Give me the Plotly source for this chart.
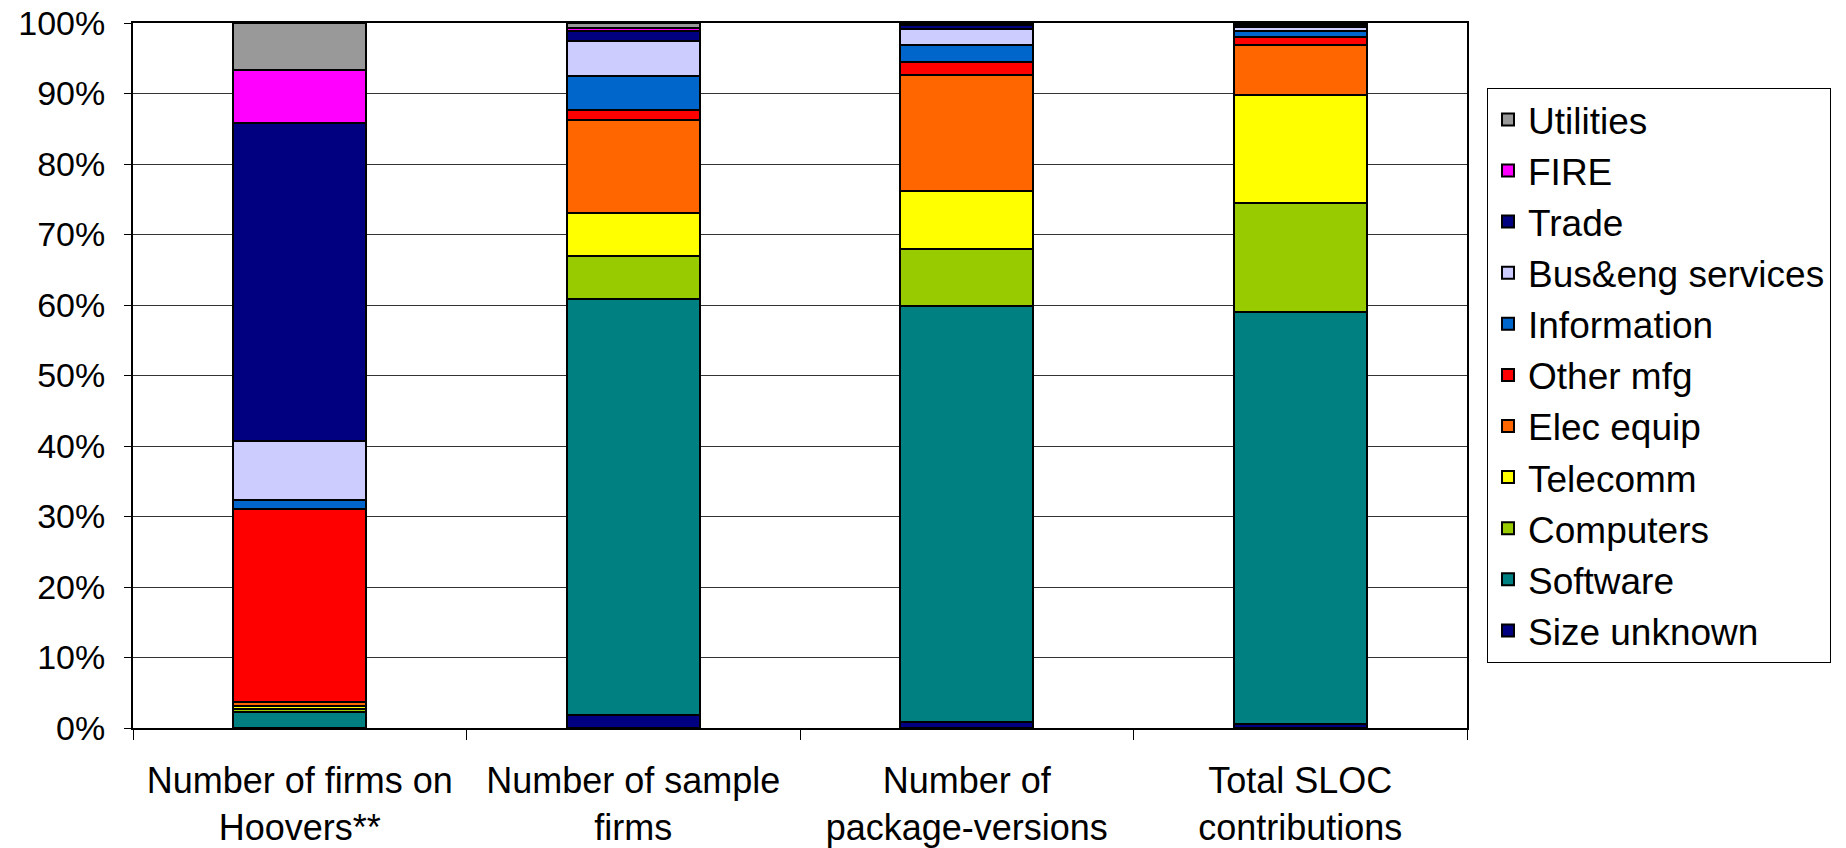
import plotly.graph_objects as go

# Categories on the x axis (two-line labels)
categories = [
    "Number of firms on<br>Hoovers**",
    "Number of sample<br>firms",
    "Number of<br>package-versions",
    "Total SLOC<br>contributions",
]

# Percentage share of each sector, bottom of the stack first
size_unknown = [0.0, 1.9, 0.9, 0.5]
software = [2.3, 59.0, 59.0, 58.5]
computers = [0.4, 6.0, 8.1, 15.5]
telecomm = [0.4, 6.2, 8.2, 15.3]
elec_equip = [0.6, 13.1, 16.4, 7.1]
other_mfg = [27.4, 1.4, 1.8, 1.1]
information = [1.3, 4.9, 2.5, 0.9]
bus_eng = [8.3, 4.9, 2.3, 0.5]
trade = [45.1, 1.4, 0.5, 0.3]
fire = [7.6, 0.5, 0.1, 0.1]
utilities = [6.6, 0.7, 0.2, 0.2]

series = [
    ("Size unknown", size_unknown, "#000080"),
    ("Software", software, "#008080"),
    ("Computers", computers, "#99CC00"),
    ("Telecomm", telecomm, "#FFFF00"),
    ("Elec equip", elec_equip, "#FF6600"),
    ("Other mfg", other_mfg, "#FF0000"),
    ("Information", information, "#0066CC"),
    ("Bus&eng services", bus_eng, "#CCCCFF"),
    ("Trade", trade, "#000080"),
    ("FIRE", fire, "#FF00FF"),
    ("Utilities", utilities, "#999999"),
]

FONT = "Liberation Sans, Arial, Helvetica, sans-serif"

fig = go.Figure()
for name, vals, color in series:
    fig.add_trace(go.Bar(
        name=name,
        x=categories,
        y=vals,
        width=0.4,
        marker=dict(color=color, line=dict(color="black", width=2)),
    ))

fig.update_layout(
    width=1846,
    height=848,
    barmode="stack",
    plot_bgcolor="white",
    paper_bgcolor="white",
    margin=dict(l=133, r=379, t=23, b=120),
    font=dict(family=FONT, color="black", size=32),
    showlegend=True,
    legend=dict(
        traceorder="reversed",
        x=1.015, xanchor="left",
        y=0.908, yanchor="top",
        bgcolor="white",
        bordercolor="black",
        borderwidth=1,
        font=dict(family=FONT, size=37, color="black"),
        itemsizing="constant",
    ),
)

fig.update_xaxes(
    showline=True, linecolor="black", linewidth=2, mirror=True,
    ticks="outside", tickson="boundaries", ticklen=10, tickcolor="black",
    tickfont=dict(family=FONT, size=36, color="black"),
    ticklabelstandoff=20,
    showgrid=False,
    automargin=False,
)
fig.update_yaxes(
    range=[0, 100], dtick=10, ticksuffix="%",
    showline=True, linecolor="black", linewidth=2, mirror=True,
    ticks="outside", ticklen=7, tickcolor="black",
    showgrid=True, gridcolor="#333333", gridwidth=1,
    tickfont=dict(family=FONT, size=34, color="black"),
    ticklabelstandoff=12,
    zeroline=False,
    automargin=False,
)

fig.write_html("out.html")
